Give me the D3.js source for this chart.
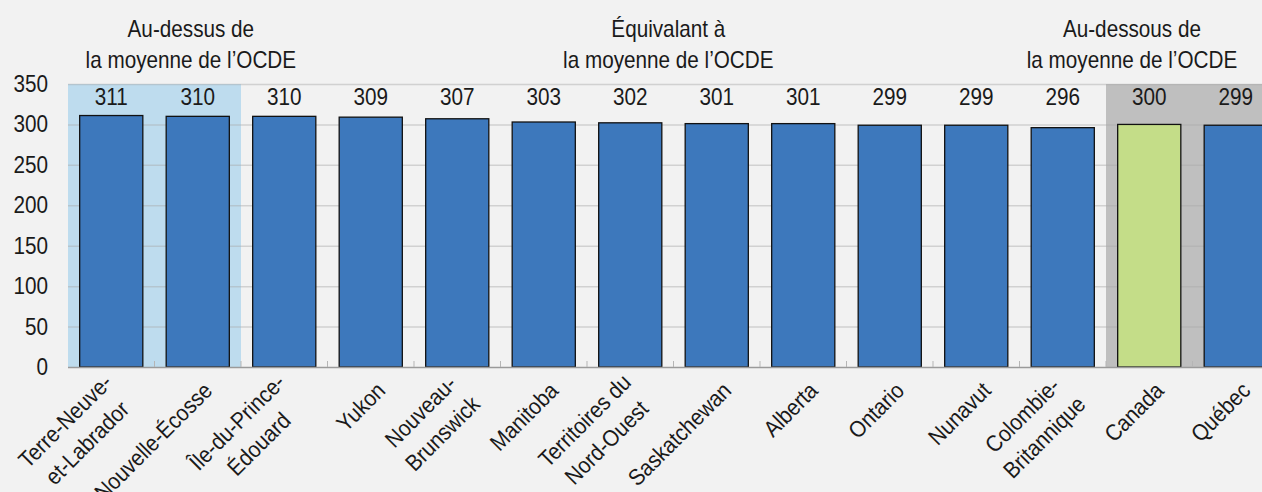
<!DOCTYPE html>
<html>
<head>
<meta charset="utf-8">
<script src="https://cdn.jsdelivr.net/npm/d3@7"></script>
<style>
  html, body { margin: 0; padding: 0; background: #f2f2f2; }
  svg { display: block; }
  text { font-family: "Liberation Sans", Arial, sans-serif; fill: #1a1a1a; }
</style>
</head>
<body>
<svg id="chart" width="1262" height="492"></svg>
<script>
const provinces = [
  ['Terre-Neuve-', 'et-Labrador'], ['Nouvelle-Écosse'], ['Île-du-Prince-', 'Édouard'],
  ['Yukon'], ['Nouveau-', 'Brunswick'], ['Manitoba'], ['Territoires du', 'Nord-Ouest'],
  ['Saskatchewan'], ['Alberta'], ['Ontario'], ['Nunavut'], ['Colombie-', 'Britannique'],
  ['Canada'], ['Québec']
];
const scores = [311, 310, 310, 309, 307, 303, 302, 301, 301, 299, 299, 296, 300, 299];
const yTicks = [0, 50, 100, 150, 200, 250, 300, 350];
// group shading: [first index, last index]
const shadeGroups = [
  { from: 0, to: 1, color: '#bedcee' },
  { from: 12, to: 13, color: '#bfbfbf' }
];
const groupLabels = [
  { lines: ['Au-dessus de', 'la moyenne de l\u2019OCDE'], at: 1.42 },
  { lines: ['Équivalant à', 'la moyenne de l\u2019OCDE'], at: 6.94 },
  { lines: ['Au-dessous de', 'la moyenne de l\u2019OCDE'], at: 12.3 }
];

const FS = 23;      // font size
const SX = 0.9;     // horizontal squeeze, the original uses a condensed face

const svg = d3.select('#chart');
const left = 68, step = 86.5;
const ids = provinces.map((p, i) => i);

const x = d3.scaleBand().domain(ids).range([left, left + step * ids.length])
  .paddingInner(0.27).paddingOuter(0.135);
const y = d3.scaleLinear().domain([0, 350]).range([367, 84]);

// condensed text helper
function label(parent, tx, ty, str, anchor) {
  return parent.append('text')
    .attr('transform', `translate(${tx},${ty}) scale(${SX},1)`)
    .attr('text-anchor', anchor)
    .attr('font-size', FS)
    .text(str);
}

// shading behind groups
svg.selectAll('.shade')
  .data(shadeGroups)
  .join('rect')
  .attr('x', d => x(d.from) - x.step() * x.paddingOuter())
  .attr('width', d => (d.to - d.from + 1) * x.step())
  .attr('y', y(350))
  .attr('height', y(0) - y(350))
  .attr('fill', d => d.color);

// gridlines
svg.selectAll('.grid')
  .data(yTicks.filter(t => t > 0))
  .join('line')
  .attr('x1', left).attr('x2', 1262)
  .attr('y1', d => y(d) + 0.5).attr('y2', d => y(d) + 0.5)
  .attr('stroke', '#a8a8a8').attr('stroke-opacity', 0.45).attr('stroke-width', 1.5);

// y labels
yTicks.forEach(t => label(svg, 48, y(t) + 8, t, 'end'));

// bars
svg.selectAll('.bar')
  .data(scores)
  .join('rect')
  .attr('x', (d, i) => x(i))
  .attr('width', x.bandwidth())
  .attr('y', d => y(d))
  .attr('height', d => y(0) - y(d))
  .attr('fill', (d, i) => provinces[i][0] === 'Canada' ? '#c4dd88' : '#3d78bc')
  .attr('stroke', '#111').attr('stroke-width', 1.3);

// baseline axis with small ticks between categories
svg.append('line')
  .attr('x1', left).attr('x2', 1262)
  .attr('y1', y(0) + 0.5).attr('y2', y(0) + 0.5)
  .attr('stroke', '#9a9a9a').attr('stroke-width', 1.5);
svg.selectAll('.tick')
  .data(d3.range(1, ids.length))
  .join('line')
  .attr('x1', i => left + i * x.step()).attr('x2', i => left + i * x.step())
  .attr('y1', y(0)).attr('y2', y(0) - 6)
  .attr('stroke', '#b5b5b5').attr('stroke-width', 1);

// value labels along the top
scores.forEach((d, i) => label(svg, x(i) + x.bandwidth() / 2, 105, d, 'middle'));

// group labels
groupLabels.forEach(g => {
  const cx = left + g.at * step;
  g.lines.forEach((ln, k) => label(svg, cx, 37 + k * 31, ln, 'middle'));
});

// rotated category labels, lines centred on each other
const lineH = 31;
provinces.forEach((lines, i) => {
  const cx = x(i) + x.bandwidth() / 2;
  const g = svg.append('g')
    .attr('transform', `translate(${cx + 16},${392}) rotate(-45)`);
  const n = lines.length;
  const texts = lines.map(ln => label(g, 0, 0, ln, 'middle'));
  const maxW = d3.max(texts, t => t.node().getComputedTextLength()) * SX;
  const shift = n > 1 ? 4 : 0;
  texts.forEach((t, k) => {
    const ly = (k - (n - 1) / 2) * lineH;
    t.attr('transform', `translate(${-maxW / 2 - shift},${ly}) scale(${SX},1)`);
  });
});
</script>
</body>
</html>
